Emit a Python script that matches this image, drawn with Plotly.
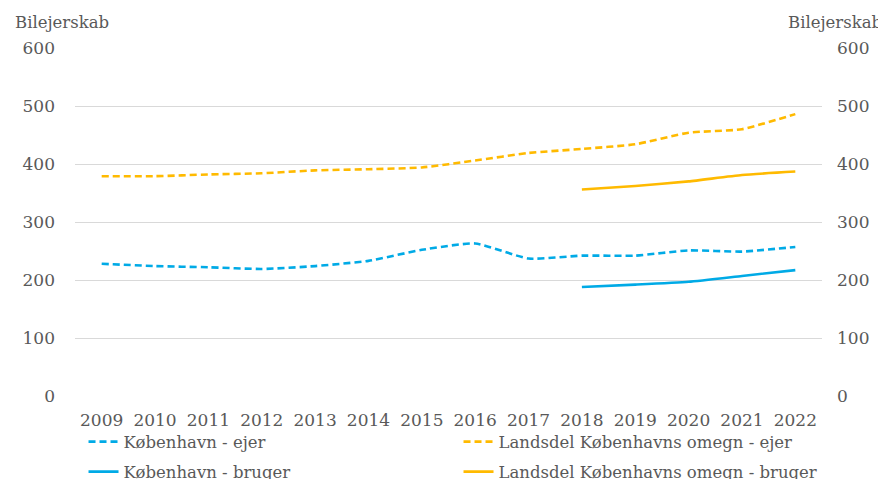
import plotly.graph_objects as go

years = ["2009", "2010", "2011", "2012", "2013", "2014", "2015", "2016", "2017", "2018", "2019", "2020", "2021", "2022"]
kbh_ejer = [228, 224, 222, 219, 224, 233, 252, 263, 237, 242, 242, 251, 249, 257]
omegn_ejer = [379, 379, 382, 384, 389, 391, 394, 406, 419, 426, 434, 454, 460, 486]
years_bruger = ["2018", "2019", "2020", "2021", "2022"]
kbh_bruger = [188, 192, 197, 207, 217]
omegn_bruger = [356, 362, 370, 381, 387]

BLUE = "#00AAE6"
GOLD = "#FFBA00"
FONT = "DejaVu Serif"
TXT = "#595959"

fig = go.Figure()
fig.add_trace(go.Scatter(x=years, y=kbh_ejer, name="København - ejer", mode="lines", legend="legend",
                         line=dict(color=BLUE, width=2.6, dash="7px,4px", shape="spline", smoothing=0.5)))
fig.add_trace(go.Scatter(x=years, y=omegn_ejer, name="Landsdel Københavns omegn - ejer", mode="lines", legend="legend",
                         line=dict(color=GOLD, width=2.6, dash="7px,4px", shape="spline", smoothing=0.5)))
fig.add_trace(go.Scatter(x=years_bruger, y=kbh_bruger, name="København - bruger", mode="lines", legend="legend2",
                         line=dict(color=BLUE, width=2.6, shape="spline", smoothing=0.5)))
fig.add_trace(go.Scatter(x=years_bruger, y=omegn_bruger, name="Landsdel Københavns omegn - bruger", mode="lines",
                         legend="legend2", line=dict(color=GOLD, width=2.6, shape="spline", smoothing=0.5)))
fig.add_trace(go.Scatter(x=years, y=[None] * len(years), yaxis="y2", showlegend=False,
                         hoverinfo="skip", mode="lines"))

leg_common = dict(orientation="h", x=0.0114, xanchor="left", yanchor="middle",
                  entrywidth=330, entrywidthmode="pixels", bgcolor="rgba(0,0,0,0)",
                  font=dict(family=FONT, size=16.5, color=TXT))

fig.update_layout(
    width=878, height=471,
    margin=dict(l=67, r=64, t=40, b=83, autoexpand=False),
    paper_bgcolor="white", plot_bgcolor="white",
    font=dict(family=FONT, size=17, color=TXT),
    xaxis=dict(type="category", categoryorder="array", categoryarray=years,
               showgrid=False, zeroline=False, showline=False, ticks="",
               ticklabelstandoff=12, range=[-0.5, 13.5]),
    yaxis=dict(range=[0, 600], dtick=100, showgrid=True, gridcolor="#D9D9D9", gridwidth=1,
               zeroline=False, showline=False, ticks="", ticklabelstandoff=19),
    yaxis2=dict(range=[0, 600], dtick=100, overlaying="y", side="right", showgrid=False,
                zeroline=False, showline=False, ticks="", ticklabelstandoff=14),
    legend=dict(y=-0.132, **leg_common),
    legend2=dict(y=-0.218, **leg_common),
    showlegend=True,
    annotations=[
        dict(text="Bilejerskab", xref="paper", yref="paper", x=0, xshift=-62, y=1.0, yshift=26,
             xanchor="left", yanchor="middle", showarrow=False, font=dict(size=16.5)),
        dict(text="Bilejerskab", xref="paper", yref="paper", x=1.0, xshift=62, y=1.0, yshift=26,
             xanchor="right", yanchor="middle", showarrow=False, font=dict(size=16.5)),
    ],
)

fig.write_html("out.html")
